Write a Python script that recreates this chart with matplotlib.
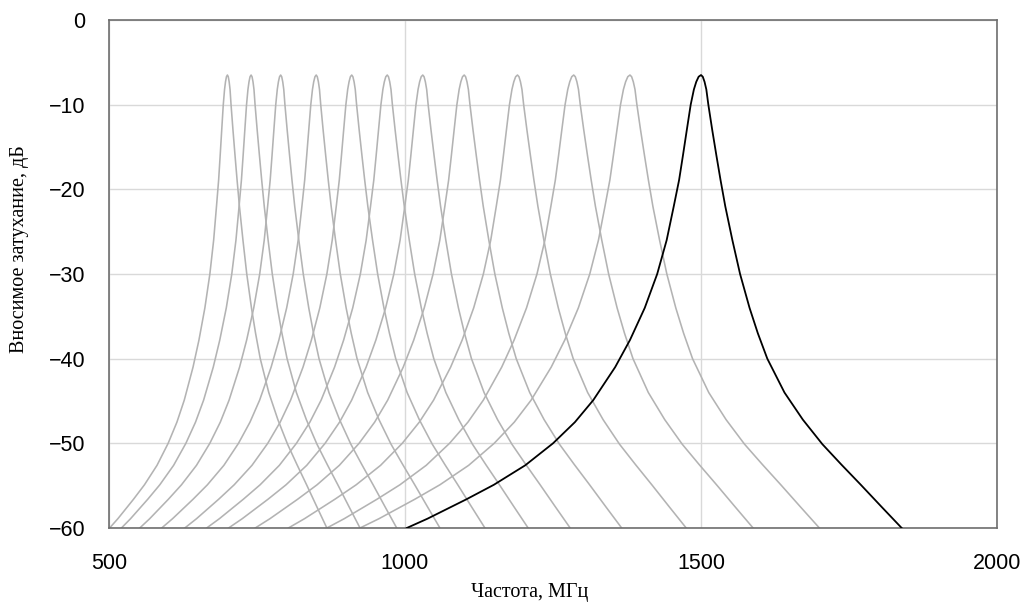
import matplotlib
matplotlib.use("Agg")
import matplotlib.pyplot as plt
import numpy as np

# Peak frequencies (MHz) of the grey family and of the black curve
gray_centers = [700, 740, 790, 850, 910, 970, 1030, 1100, 1190, 1285, 1380]
# Offsets (MHz) at which each grey curve reaches -60 dB on its low / high side
gray_left_span = [199, 219, 238, 261, 282, 305, 328, 353, 387, 417, 456]
gray_right_span = [168, 184, 196, 209, 225, 238, 249, 266, 285, 303, 320]

black_center = 1500
black_left_span = 497
black_right_span = 339

# Profile: level (dB) vs. offset from the peak (MHz)
left_levels = [-6.5, -6.7, -7.3, -8.2, -10, -13, -16, -18.9, -22, -26, -30, -34,
               -37.8, -41, -44.9, -47.5, -50, -52.6, -54.9, -56.6, -58.9, -60]
left_offsets = [0, -4, -8, -12, -17.4, -24, -30.5, -37, -46, -58, -74, -95,
                -120, -145, -182, -213, -250, -297, -350, -396, -462, -497]
right_levels = [-6.5, -6.7, -7.3, -8.2, -10, -13, -16, -18.9, -22, -26, -30, -34,
                -37, -40, -44, -47.2, -50.1, -52.5, -54.9, -57.5, -60]
right_offsets = [0, 3, 6, 9, 12.4, 19, 26, 33, 41, 53, 66, 82,
                 96, 112, 141, 172, 205, 237, 270, 305, 339]

x_ticks = [500, 1000, 1500, 2000]
y_ticks = [0, -10, -20, -30, -40, -50, -60]
x_label = "Частота, МГц"
y_label = "Вносимое затухание, дБ"


def curve(center, lspan, rspan):
    lo = np.array(left_offsets) * (lspan / black_left_span)
    ro = np.array(right_offsets) * (rspan / black_right_span)
    xs = np.concatenate([center + lo[::-1], center + ro[1:]])
    ys = np.concatenate([np.array(left_levels)[::-1], np.array(right_levels)[1:]])
    return xs, ys


fig = plt.figure(figsize=(10.25, 6.05), dpi=100)
ax = fig.add_axes([109 / 1025, 1 - 528 / 605, (997 - 109) / 1025, (528 - 20) / 605])

for c, l, r in zip(gray_centers, gray_left_span, gray_right_span):
    xs, ys = curve(c, l, r)
    ax.plot(xs, ys, color="#b3b3b3", lw=1.15, zorder=2, solid_joinstyle="round")

xs, ys = curve(black_center, black_left_span, black_right_span)
ax.plot(xs, ys, color="black", lw=1.3, zorder=3, solid_joinstyle="round")

ax.set_xlim(500, 2000)
ax.set_ylim(-60, 0)
ax.set_xticks(x_ticks)
ax.set_yticks(y_ticks)
ax.grid(True, color="#d9d9d9", lw=1, zorder=0)
ax.set_axisbelow(True)
for s in ax.spines.values():
    s.set_color("#6e6e6e")
    s.set_linewidth(1.2)
ax.tick_params(length=0, labelsize=15.5, pad=18)
ax.tick_params(axis="y", pad=17)
for t in ax.get_xticklabels() + ax.get_yticklabels():
    t.set_fontfamily("Liberation Sans")

fig.text(530 / 1025, 1 - 593 / 605, x_label, ha="center", va="center",
         fontsize=14.5, family="Liberation Serif")
fig.text(20 / 1025, 1 - 249 / 605, y_label, ha="center", va="center",
         rotation=90, fontsize=14.5, family="Liberation Serif")

fig.savefig("out.png", dpi=100)
